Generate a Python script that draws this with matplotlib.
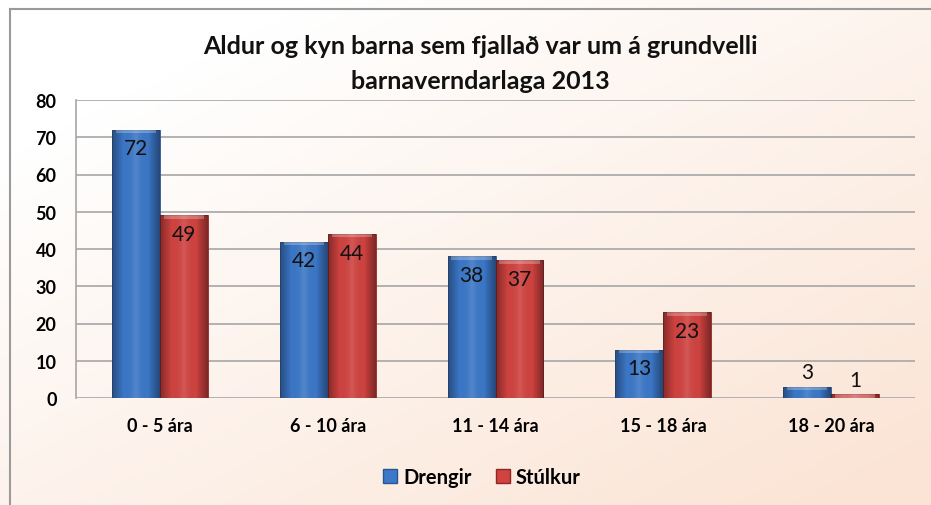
import numpy as np
import matplotlib.pyplot as plt
from matplotlib.colors import LinearSegmentedColormap
from matplotlib.patches import Rectangle
from matplotlib.lines import Line2D

plt.rcParams['font.family'] = ['Lato', 'DejaVu Sans']

# data
categories = ['0 - 5 ára', '6 - 10 ára', '11 - 14 ára', '15 - 18 ára', '18 - 20 ára']
drengir = [72, 42, 38, 13, 3]
stulkur = [49, 44, 37, 23, 1]
series_names = ['Drengir', 'Stúlkur']

blue = '#3C78C8'
red = '#D04340'
blue_dark = '#2A5595'
red_dark = '#8E2725'

W, H = 931, 506
fig = plt.figure(figsize=(W / 100, H / 100), dpi=100)

# background gradient (white top-left -> peach bottom-right)
bg = fig.add_axes([0, 0, 1, 1], zorder=-10)
gx, gy = np.meshgrid(np.linspace(0, 1, 200), np.linspace(0, 1, 120))
g = np.clip(0.6 * gx + 0.65 * gy - 0.2, 0, 1)
bg_cmap = LinearSegmentedColormap.from_list('bg', ['#FFFFFF', '#FBE4D5'])
bg.imshow(g, cmap=bg_cmap, aspect='auto', extent=[0, 1, 0, 1], origin='upper')
bg.set_xlim(0, 1)
bg.set_ylim(0, 1)
bg.axis('off')
# outer frame
bg.add_line(Line2D([10 / W, 10 / W], [0, 1 - 10 / H], color='#9A9A9A', lw=1.5))
bg.add_line(Line2D([10 / W, 1], [1 - 10 / H, 1 - 10 / H], color='#9A9A9A', lw=1.5))

left, right, top, bottom = 76, 915, 101, 399
ax = fig.add_axes([left / W, 1 - bottom / H, (right - left) / W, (bottom - top) / H])
ax.patch.set_alpha(0)

x = np.arange(len(categories))
bw = 0.286

shade = LinearSegmentedColormap.from_list('shade', [(0, 0, 0, 0.35), (0, 0, 0, 0.0), (1, 1, 1, 0.12), (0, 0, 0, 0.0), (0, 0, 0, 0.4)])
grad = np.linspace(0, 1, 64).reshape(1, -1)

for vals, offs, col, dcol in [(drengir, -bw / 2, blue, blue_dark), (stulkur, bw / 2, red, red_dark)]:
    bars = ax.bar(x + offs, vals, width=bw, color=col, edgecolor=dcol, linewidth=0.6, zorder=3)
    for b, v in zip(bars, vals):
        bx, by = b.get_x(), b.get_y()
        im = ax.imshow(grad, cmap=shade, aspect='auto',
                       extent=[bx, bx + bw, by, by + v], zorder=4, interpolation='bicubic')
        im.set_clip_path(b)
        # light bevel on top
        ax.add_patch(Rectangle((bx + bw * 0.08, v - 0.9), bw * 0.84, 0.9,
                               facecolor='white', alpha=0.25, lw=0, zorder=5))
        if v > 6:
            ax.text(bx + bw / 2, v - 2.3, str(v), ha='center', va='top',
                    fontsize=15, color='#111111', zorder=6)
        else:
            ax.text(bx + bw / 2, v + 1.2, str(v), ha='center', va='bottom',
                    fontsize=15, color='#111111', zorder=6)

ax.set_xlim(-0.5, len(categories) - 0.5)
ax.set_ylim(0, 80)
ax.set_yticks(range(0, 81, 10))
ax.set_xticks(x)
ax.set_xticklabels(categories, fontsize=13, fontweight='bold')
ax.tick_params(axis='y', labelsize=13, length=0, pad=14)
ax.tick_params(axis='x', length=0, pad=14)
for lab in ax.get_yticklabels():
    lab.set_fontweight('bold')
ax.grid(axis='y', color='#A6A6A6', lw=1.2, zorder=1)
for s in ['top', 'right', 'bottom']:
    ax.spines[s].set_visible(False)
ax.spines['left'].set_color('#A6A6A6')
ax.spines['left'].set_linewidth(1.2)

fig.text(480 / W, 1 - 47 / H, 'Aldur og kyn barna sem fjallað var um á grundvelli',
         ha='center', va='center', fontsize=18, fontweight='bold', color='#111111')
fig.text(480 / W, 1 - 82 / H, 'barnaverndarlaga 2013',
         ha='center', va='center', fontsize=18, fontweight='bold', color='#111111')

handles = [Rectangle((0, 0), 1, 1, facecolor=blue, edgecolor=blue_dark),
           Rectangle((0, 0), 1, 1, facecolor=red, edgecolor=red_dark)]
fig.legend(handles, series_names, loc='center', bbox_to_anchor=(482 / W, 1 - 478 / H),
           ncol=2, frameon=False, handlelength=0.7, handleheight=0.7,
           handletextpad=0.3, columnspacing=1.2,
           prop={'weight': 'bold', 'size': 14.5})

fig.savefig('out.png', dpi=100)
